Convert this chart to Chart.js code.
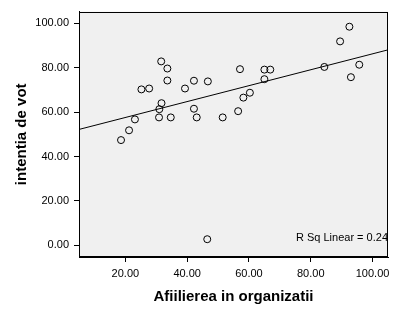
<!DOCTYPE html>
<html>
<head>
<meta charset="utf-8">
<script src="https://cdn.jsdelivr.net/npm/chart.js@4.4.1/dist/chart.umd.min.js"></script>
<style>
  body { margin: 0; background: #fff; }
</style>
</head>
<body>
<canvas id="c" width="396" height="316"></canvas>
<script>
// values
var afiliere = [92.5, 89.5, 95.7, 93.0, 84.4, 65.0, 66.9, 65.0, 57.1, 60.3, 58.2, 56.5, 51.5,
                46.7, 42.2, 39.3, 42.2, 43.1, 31.6, 33.6, 33.6, 27.7, 25.2, 31.7, 31.0, 30.9,
                34.7, 23.1, 21.2, 18.6, 46.5];
var intentie = [98.4, 91.8, 81.3, 75.7, 80.3, 79.1, 79.1, 74.8, 79.3, 68.7, 66.5, 60.4, 57.6,
                73.8, 74.1, 70.6, 61.5, 57.6, 82.8, 79.6, 74.2, 70.6, 70.2, 64.0, 61.3, 57.6,
                57.6, 56.7, 51.8, 47.4, 2.8];
var xTicks = [20, 40, 60, 80, 100];
var yTicks = [0, 20, 40, 60, 80, 100];
var xRange = [5, 105];
var yRange = [-5.2, 105.2];
var fitIntercept = 50.4;
var fitSlope = 0.358;
var rSq = 0.24;

var FONT = "'Liberation Sans', Arial, sans-serif";

var fitLine = xRange.map(function(x){ return {x: x, y: fitIntercept + fitSlope * x}; });
var points = afiliere.map(function(x, i){ return {x: x, y: intentie[i]}; });

var frame = {
  id: 'frame',
  beforeDraw: function(chart) {
    var a = chart.chartArea, ctx = chart.ctx;
    ctx.save();
    ctx.fillStyle = '#f0f0f0';
    ctx.fillRect(a.left, a.top, a.right - a.left, a.bottom - a.top);
    ctx.restore();
  },
  afterDraw: function(chart) {
    var a = chart.chartArea, ctx = chart.ctx;
    ctx.save();
    ctx.strokeStyle = '#000';
    ctx.lineWidth = 1;
    ctx.strokeRect(Math.round(a.left) + 0.5, Math.round(a.top) + 0.5,
                   Math.round(a.right - a.left) - 1, Math.round(a.bottom - a.top) - 1);
    ctx.fillStyle = '#000';
    ctx.font = '11px ' + FONT;
    ctx.textAlign = 'right';
    ctx.textBaseline = 'middle';
    ctx.fillText('R Sq Linear = ' + rSq, a.right, a.bottom - 19);
    ctx.restore();
  }
};

new Chart(document.getElementById('c'), {
  data: {
    datasets: [{
      type: 'scatter',
      data: points,
      pointStyle: 'circle',
      pointRadius: 3.5,
      pointBorderWidth: 1,
      pointBorderColor: '#000',
      pointBackgroundColor: 'rgba(0,0,0,0)',
      order: 1
    }, {
      type: 'line',
      data: fitLine,
      borderColor: '#000',
      borderWidth: 1,
      pointRadius: 0,
      fill: false,
      order: 2
    }]
  },
  options: {
    responsive: false,
    animation: false,
    layout: { padding: { top: 9, right: 8, left: 0, bottom: 0 } },
    plugins: { legend: { display: false }, tooltip: { enabled: false } },
    scales: {
      x: {
        type: 'linear',
        min: xRange[0], max: xRange[1],
        afterBuildTicks: function(s){ s.ticks = xTicks.map(function(v){ return {value: v}; }); },
        afterFit: function(s){ s.height = 59; },
        grid: { drawOnChartArea: false, tickLength: 5, color: '#000' },
        border: { color: '#000' },
        ticks: {
          color: '#000', padding: 5, maxRotation: 0,
          font: { family: FONT, size: 11 },
          callback: function(v){ return v.toFixed(2); }
        },
        title: {
          display: true, text: 'Afiilierea in organizatii', color: '#000',
          font: { family: FONT, size: 15, weight: 'bold' },
          padding: { top: 0, bottom: 10 }
        }
      },
      y: {
        type: 'linear',
        min: yRange[0], max: yRange[1],
        afterBuildTicks: function(s){ s.ticks = yTicks.map(function(v){ return {value: v}; }); },
        afterFit: function(s){ s.width = 79; },
        grid: { drawOnChartArea: false, tickLength: 5, color: '#000' },
        border: { color: '#000' },
        ticks: {
          color: '#000', padding: 5,
          font: { family: FONT, size: 11 },
          callback: function(v){ return v.toFixed(2); }
        },
        title: {
          display: true, text: 'intentia de vot', color: '#000',
          font: { family: FONT, size: 15, weight: 'bold' },
          padding: { top: 13, bottom: 0 }
        }
      }
    }
  },
  plugins: [frame]
});
</script>
</body>
</html>
